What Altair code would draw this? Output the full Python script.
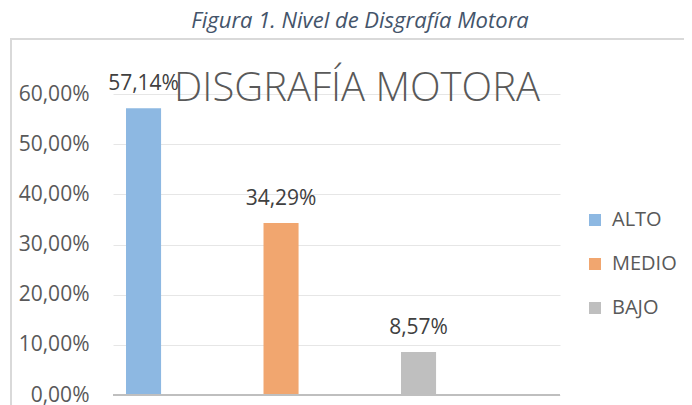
import altair as alt
import pandas as pd

categories = ["ALTO", "MEDIO", "BAJO"]
values = [0.5714, 0.3429, 0.0857]
colors = ["#8DB8E2", "#F1A66F", "#BFBFBF"]
y_ticks = [0, 0.1, 0.2, 0.3, 0.4, 0.5, 0.6]
caption = "Figura 1. Nivel de Disgrafía Motora"
chart_title = "DISGRAFÍA MOTORA"

df = pd.DataFrame({"cat": categories, "val": values})
FONT = "Open Sans"

x = alt.X("cat:N", sort=categories, axis=None,
          scale=alt.Scale(paddingInner=0.745, paddingOuter=0.498, align=0.095))
y = alt.Y("val:Q", scale=alt.Scale(domain=[0, 0.6], nice=False, zero=True),
          axis=alt.Axis(values=y_ticks,
                        labelExpr="replace(format(datum.value, '.2%'), '.', ',')",
                        title=None, domain=False, ticks=False, labelPadding=24,
                        labelFontSize=21, labelColor="#595959", labelFont=FONT,
                        gridColor="#E6E6E6", gridWidth=1))

border = alt.Chart(pd.DataFrame({"k": [0]})).mark_rect(
    fill=None, stroke="#D9D9D9", strokeWidth=2
).encode(x=alt.value(-102), x2=alt.value(620), y=alt.value(-55), y2=alt.value(340))

bars = alt.Chart(df).mark_bar().encode(
    x=x, y=y,
    color=alt.Color("cat:N", sort=categories,
                    scale=alt.Scale(domain=categories, range=colors),
                    legend=alt.Legend(orient="none", legendX=472, legendY=116, title=None,
                                      symbolType="square", symbolSize=144, symbolStrokeWidth=0,
                                      labelFontSize=20, labelColor="#595959", labelFont=FONT,
                                      rowPadding=24, labelOffset=7))
)

baseline = alt.Chart(pd.DataFrame({"v": [0]})).mark_rule(color="#BFBFBF", strokeWidth=2).encode(
    y="v:Q", x=alt.value(0), x2=alt.value(447)
)

labels = alt.Chart(df).transform_calculate(
    lbl="replace(format(datum.val, '.2%'), '.', ',')"
).mark_text(dy=-24, baseline="middle", fontSize=21, color="#404040", font=FONT).encode(
    x=x, y=y, text="lbl:N"
)

title_df = pd.DataFrame({"t": [chart_title]})
title_txt = alt.Chart(title_df).mark_text(
    fontSize=40, font=FONT, fontWeight=300, color="#595959", align="center", baseline="alphabetic"
).encode(x=alt.value(244), y=alt.value(7), text="t:N")

cap_df = pd.DataFrame({"t": [caption]})
cap_txt = alt.Chart(cap_df).mark_text(
    fontSize=22, font=FONT, fontStyle="italic", color="#44546A", align="center", baseline="alphabetic"
).encode(x=alt.value(247), y=alt.value(-66), text="t:N")

chart = alt.layer(border, bars, baseline, labels, title_txt, cap_txt).properties(
    width=447, height=301,
    autosize=alt.AutoSizeParams(type="none"),
    padding={"left": 105, "top": 86, "right": 124, "bottom": 10},
).configure_view(stroke=None)

chart.save("out.html", embed_options={"renderer": "svg", "actions": False})
